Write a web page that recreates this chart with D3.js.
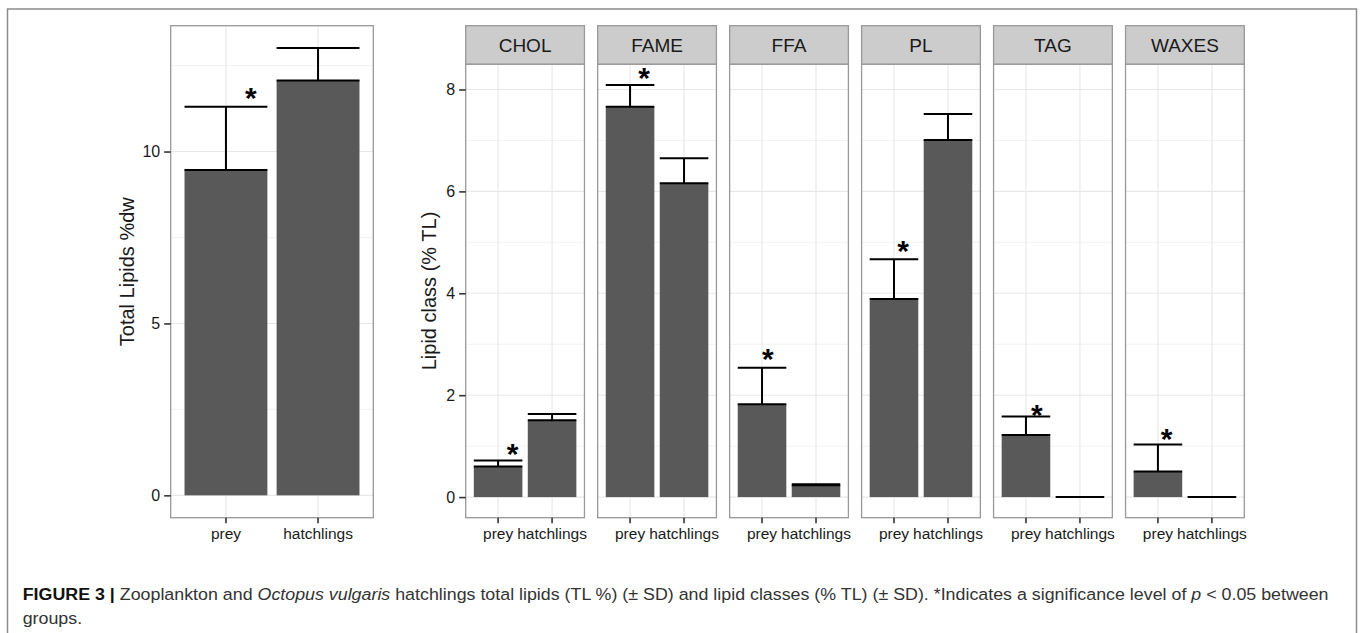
<!DOCTYPE html>
<html>
<head>
<meta charset="utf-8">
<script src="https://cdn.jsdelivr.net/npm/d3@7/dist/d3.min.js"></script>
<style>
  body { margin: 0; background: #fff; }
  svg { display: block; }
</style>
</head>
<body>
<div id="chart"></div>
<script>
// groups on the x axis
const groups = ["prey", "hatchlings"];

// left panel: total lipids %dw
const totalMean = [9.46, 12.07];
const totalSD = [1.84, 0.94];
const totalTicks = [0, 5, 10];
const totalMinor = [2.5, 7.5, 12.5];
const totalStarY = 11.72;
const totalStarDx = 0.27;

// right panels: lipid classes (% TL)
const classes = ["CHOL", "FAME", "FFA", "PL", "TAG", "WAXES"];
const preyMean = [0.60, 7.66, 1.82, 3.89, 1.22, 0.50];
const preySD = [0.12, 0.43, 0.72, 0.78, 0.36, 0.53];
const hatchMean = [1.51, 6.16, 0.23, 7.01, 0, 0];
const hatchSD = [0.12, 0.49, 0.02, 0.51, 0, 0];
const classTicks = [0, 2, 4, 6, 8];
const classMinor = [1, 3, 5, 7];
const starY = [0.97, 8.34, 2.82, 4.95, 1.72, 1.26];
const starDx = [0.27, 0.26, 0.11, 0.17, 0.2, 0.16];

const W = 1362, H = 633;
const font = "'Liberation Sans', Arial, sans-serif";
const barFill = "#595959";
const frameCol = "#8c8c8c";
const panelCol = "#999999";
const textCol = "#1a1a1a";

const svg = d3.select("#chart").append("svg")
    .attr("width", W)
    .attr("height", H);

svg.append("rect")
    .attr("x", 7.5).attr("y", 9)
    .attr("width", 1349).attr("height", 650)
    .attr("fill", "none")
    .attr("stroke", frameCol)
    .attr("stroke-width", 1.5);

// ggplot style expansion of 5% on the data range
function yDomain(tops) {
    const m = d3.max(tops);
    return [-0.05 * m, m * 1.05];
}

function drawPanel(g, x0, x1, yTop, yBot, yDom, means, sds, ticks, minor, star, showY) {
    const x = d3.scaleBand().domain(groups).range([x0, x1])
        .paddingInner(0.1).paddingOuter(0.15);
    const y = d3.scaleLinear().domain(yDom).range([yBot, yTop]);

    g.append("rect")
        .attr("x", x0).attr("y", yTop)
        .attr("width", x1 - x0).attr("height", yBot - yTop)
        .attr("fill", "#fff");

    g.selectAll(".minor").data(minor).join("line")
        .attr("x1", x0).attr("x2", x1)
        .attr("y1", d => y(d)).attr("y2", d => y(d))
        .attr("stroke", "#f3f3f3").attr("stroke-width", 1);
    g.selectAll(".major").data(ticks).join("line")
        .attr("x1", x0).attr("x2", x1)
        .attr("y1", d => y(d)).attr("y2", d => y(d))
        .attr("stroke", "#e8e8e8").attr("stroke-width", 1.1);
    g.selectAll(".vmajor").data(groups).join("line")
        .attr("x1", d => x(d) + x.bandwidth() / 2).attr("x2", d => x(d) + x.bandwidth() / 2)
        .attr("y1", yTop).attr("y2", yBot)
        .attr("stroke", "#e8e8e8").attr("stroke-width", 1.1);

    g.selectAll(".bar").data(groups).join("rect")
        .attr("x", d => x(d))
        .attr("width", x.bandwidth())
        .attr("y", (d, i) => y(means[i]))
        .attr("height", (d, i) => y(0) - y(means[i]))
        .attr("fill", barFill);

    // error bars: mean to mean + sd
    groups.forEach((d, i) => {
        const xa = x(d), xb = x(d) + x.bandwidth(), xc = x(d) + x.bandwidth() / 2;
        const lo = y(means[i]), hi = y(means[i] + sds[i]);
        g.append("path")
            .attr("d", `M${xa},${lo}H${xb}M${xa},${hi}H${xb}M${xc},${lo}V${hi}`)
            .attr("fill", "none")
            .attr("stroke", "#000")
            .attr("stroke-width", 2);
    });

    g.append("text")
        .attr("x", x("prey") + x.bandwidth() / 2 + star.dx * x.step())
        .attr("y", y(star.y) + 16)
        .attr("text-anchor", "middle")
        .attr("font-family", font)
        .attr("font-weight", "bold")
        .attr("font-size", 30)
        .attr("fill", "#000")
        .text("*");

    g.append("rect")
        .attr("x", x0).attr("y", yTop)
        .attr("width", x1 - x0).attr("height", yBot - yTop)
        .attr("fill", "none")
        .attr("stroke", panelCol).attr("stroke-width", 1.3);

    const xAxis = g.append("g")
        .attr("transform", `translate(0,${yBot})`)
        .call(d3.axisBottom(x).tickSize(5.5).tickPadding(5));
    xAxis.select(".domain").remove();
    xAxis.selectAll("line").attr("stroke", "#333").attr("stroke-width", 1.6);
    xAxis.selectAll("text")
        .attr("font-family", font).attr("font-size", 15.5).attr("fill", textCol);

    if (showY) {
        const yAxis = g.append("g")
            .attr("transform", `translate(${x0},0)`)
            .call(d3.axisLeft(y).tickValues(ticks).tickFormat(d3.format("d"))
                .tickSize(6.5).tickPadding(4));
        yAxis.select(".domain").remove();
        yAxis.selectAll("line").attr("stroke", "#333").attr("stroke-width", 1.6);
        yAxis.selectAll("text")
            .attr("font-family", font).attr("font-size", 16).attr("fill", textCol);
    }
}

// left panel
const left = svg.append("g");
const totalDom = yDomain(totalMean.map((m, i) => m + totalSD[i]));
drawPanel(left, 170.7, 373.3, 25.7, 517.7, totalDom, totalMean, totalSD, totalTicks, totalMinor,
    { y: totalStarY, dx: totalStarDx }, true);
left.append("text")
    .attr("transform", "translate(134,271.7) rotate(-90)")
    .attr("text-anchor", "middle")
    .attr("font-family", font).attr("font-size", 20).attr("fill", textCol)
    .text("Total Lipids %dw");

// faceted lipid classes, shared y scale
const facet = d3.scaleBand().domain(classes).range([465.7, 1244.3]).paddingInner(0.1);
const stripTop = 25.7, stripBot = 64.3, panelBot = 517.7;
const classDom = yDomain(preyMean.map((m, i) => m + preySD[i])
    .concat(hatchMean.map((m, i) => m + hatchSD[i])));

classes.forEach((c, i) => {
    const g = svg.append("g");
    const x0 = facet(c), x1 = facet(c) + facet.bandwidth();
    g.append("rect")
        .attr("x", x0).attr("y", stripTop)
        .attr("width", x1 - x0).attr("height", stripBot - stripTop)
        .attr("fill", "#cccccc")
        .attr("stroke", panelCol).attr("stroke-width", 1.3);
    g.append("text")
        .attr("x", (x0 + x1) / 2).attr("y", (stripTop + stripBot) / 2)
        .attr("dy", "0.35em")
        .attr("text-anchor", "middle")
        .attr("font-family", font).attr("font-size", 19).attr("fill", textCol)
        .text(c);
    drawPanel(g, x0, x1, stripBot, panelBot, classDom,
        [preyMean[i], hatchMean[i]], [preySD[i], hatchSD[i]],
        classTicks, classMinor, { y: starY[i], dx: starDx[i] }, i === 0);
});

svg.append("text")
    .attr("transform", "translate(436,291) rotate(-90)")
    .attr("text-anchor", "middle")
    .attr("font-family", font).attr("font-size", 20).attr("fill", textCol)
    .text("Lipid class (% TL)");

// caption
const capFont = "'Liberation Sans Narrow', 'Liberation Sans', Arial, sans-serif";
const cap = svg.append("text")
    .attr("x", 22.7).attr("y", 600)
    .attr("font-family", capFont).attr("font-size", 17).attr("fill", "#333");
cap.append("tspan").attr("font-weight", "bold").attr("fill", "#111").text("FIGURE 3 | ");
cap.append("tspan").text("Zooplankton and ");
cap.append("tspan").attr("font-style", "italic").text("Octopus vulgaris");
cap.append("tspan").text(" hatchlings total lipids (TL %) (\u00b1 SD) and lipid classes (% TL) (\u00b1 SD). *Indicates a significance level of ");
cap.append("tspan").attr("font-style", "italic").text("p");
cap.append("tspan").text(" < 0.05 between");
const capW = cap.node().getComputedTextLength();
const sx = (1330 - 22.7) / capW;
cap.attr("transform", `translate(${22.7 * (1 - sx)},0) scale(${sx},1)`);

svg.append("text")
    .attr("x", 22.7).attr("y", 624)
    .attr("font-family", capFont).attr("font-size", 17).attr("fill", "#333")
    .attr("transform", `translate(${22.7 * (1 - sx)},0) scale(${sx},1)`)
    .text("groups.");
</script>
</body>
</html>
